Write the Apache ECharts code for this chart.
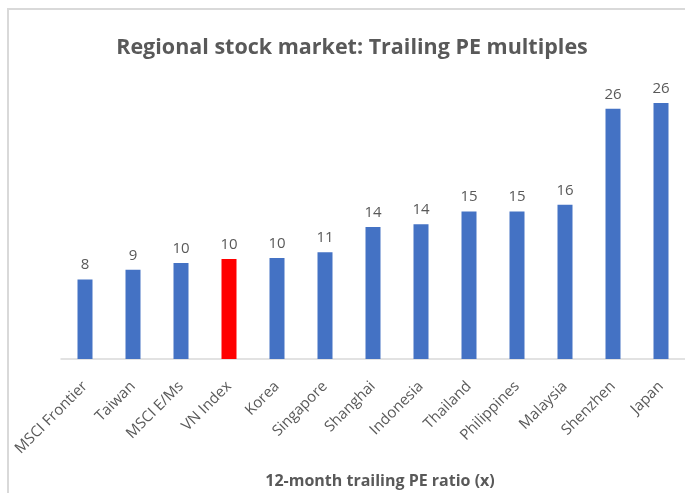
<!DOCTYPE html>
<html>
<head>
<meta charset="utf-8">
<script src="https://cdn.jsdelivr.net/npm/echarts@6/dist/echarts.min.js"></script>
<style>
  html, body { margin: 0; padding: 0; background: #fff; }
  #chart { width: 685px; height: 493px; }
</style>
</head>
<body>
<div id="chart"></div>
<script>
const markets = ['MSCI Frontier', 'Taiwan', 'MSCI E/Ms', 'VN Index', 'Korea', 'Singapore',
  'Shanghai', 'Indonesia', 'Thailand', 'Philippines', 'Malaysia', 'Shenzhen', 'Japan']
const peRatios = [8.2, 9.2, 9.9, 10.3, 10.4, 11.0, 13.6, 13.9, 15.2, 15.2, 15.9, 25.8, 26.4]
const highlight = 'VN Index'

const chart = echarts.init(document.getElementById('chart'))

const option = {
  animation: false,
  title: [
    {
      text: 'Regional stock market: Trailing PE multiples',
      left: 347,
      top: 32,
      textAlign: 'center',
      textStyle: { color: '#595959', fontSize: 21.5, fontWeight: 'bold', fontFamily: 'Open Sans' },
    },
    {
      text: '12-month trailing PE ratio (x)',
      left: 375,
      top: 468,
      textAlign: 'center',
      textStyle: { color: '#595959', fontSize: 16, fontWeight: 'bold', fontFamily: 'Open Sans' },
    },
  ],
  graphic: [
    {
      type: 'rect',
      shape: { x: 8, y: 9, width: 800, height: 600 },
      style: { fill: 'none', stroke: '#d9d9d9', lineWidth: 2 },
    },
  ],
  grid: { left: 61, width: 627, top: 68, bottom: 134 },
  xAxis: {
    type: 'category',
    data: markets,
    axisLine: { lineStyle: { color: '#d9d9d9', width: 1.5 } },
    axisTick: { show: false },
    axisLabel: {
      rotate: 45,
      margin: 25,
      interval: 0,
      color: '#595959',
      fontSize: 15,
      fontFamily: 'Open Sans',
    },
  },
  yAxis: {
    type: 'value',
    min: 0,
    max: 30,
    show: false,
  },
  series: [
    {
      type: 'bar',
      barWidth: 15,
      data: peRatios.map((v, i) => ({
        value: v,
        itemStyle: { color: markets[i] === highlight ? '#ff0000' : '#4472c4' },
      })),
      label: {
        show: true,
        position: 'top',
        distance: 7,
        color: '#595959',
        fontSize: 15,
        fontFamily: 'Open Sans',
        formatter: (p) => Math.round(p.value),
      },
    },
  ],
}

chart.setOption(option)
</script>
</body>
</html>
